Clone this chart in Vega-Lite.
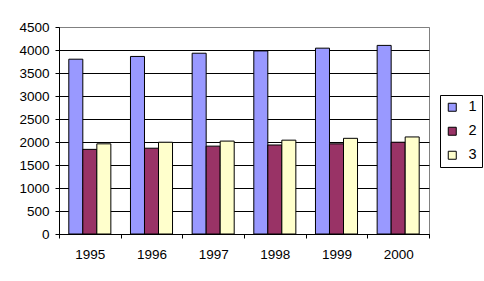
{
  "$schema": "https://vega.github.io/schema/vega-lite/v6.json",
  "width": 370,
  "height": 207,
  "autosize": {"type": "none"},
  "padding": {"left": 59, "top": 27, "right": 55, "bottom": 47},
  "background": "white",
  "data": {
    "values": [
      {"year": "1995", "s": "1", "v": 3800},
      {"year": "1996", "s": "1", "v": 3860},
      {"year": "1997", "s": "1", "v": 3930},
      {"year": "1998", "s": "1", "v": 3980},
      {"year": "1999", "s": "1", "v": 4040},
      {"year": "2000", "s": "1", "v": 4100},
      {"year": "1995", "s": "2", "v": 1840},
      {"year": "1996", "s": "2", "v": 1865},
      {"year": "1997", "s": "2", "v": 1910},
      {"year": "1998", "s": "2", "v": 1935},
      {"year": "1999", "s": "2", "v": 1960},
      {"year": "2000", "s": "2", "v": 1995},
      {"year": "1995", "s": "3", "v": 1960},
      {"year": "1996", "s": "3", "v": 1995},
      {"year": "1997", "s": "3", "v": 2020},
      {"year": "1998", "s": "3", "v": 2040},
      {"year": "1999", "s": "3", "v": 2080},
      {"year": "2000", "s": "3", "v": 2110}
    ]
  },
  "mark": {"type": "bar", "stroke": "black", "strokeWidth": 1},
  "encoding": {
    "x": {
      "field": "year", "type": "nominal",
      "scale": {"paddingInner": 0, "paddingOuter": 0},
      "axis": {
        "title": null, "labelAngle": 0, "tickBand": "extent",
        "domainColor": "black", "tickColor": "black", "tickSize": 4,
        "labelPadding": 9, "labelFontSize": 13.5, "labelFont": "Liberation Sans",
        "labelColor": "black", "grid": false
      }
    },
    "xOffset": {
      "field": "s", "type": "nominal",
      "scale": {"paddingInner": 0, "paddingOuter": 0.7}
    },
    "y": {
      "field": "v", "type": "quantitative",
      "scale": {"domain": [0, 4500], "nice": false},
      "axis": {
        "title": null, "values": [0, 500, 1000, 1500, 2000, 2500, 3000, 3500, 4000, 4500],
        "format": "d",
        "domainColor": "black", "tickColor": "black", "tickSize": 4,
        "labelPadding": 6, "labelFontSize": 13.5, "labelFont": "Liberation Sans",
        "labelColor": "black", "grid": true,
        "gridColor": {"condition": {"test": "datum.value == 4500", "value": "#808080"}, "value": "black"},
        "gridOpacity": 1
      }
    },
    "color": {
      "field": "s", "type": "nominal",
      "scale": {"domain": ["1", "2", "3"], "range": ["#9999FF", "#993366", "#FFFFCC"]},
      "legend": {
        "title": null, "orient": "none", "legendX": 381, "legendY": 68,
        "strokeColor": "black", "fillColor": "white", "padding": 5,
        "symbolType": "square", "symbolSize": 64, "symbolStrokeColor": "black",
        "symbolStrokeWidth": 1, "labelFontSize": 14.5, "labelFont": "Liberation Sans",
        "labelColor": "black", "labelOffset": 9, "rowPadding": 9
      }
    }
  },
  "config": {
    "view": {"stroke": "#808080", "strokeWidth": 1}
  }
}
